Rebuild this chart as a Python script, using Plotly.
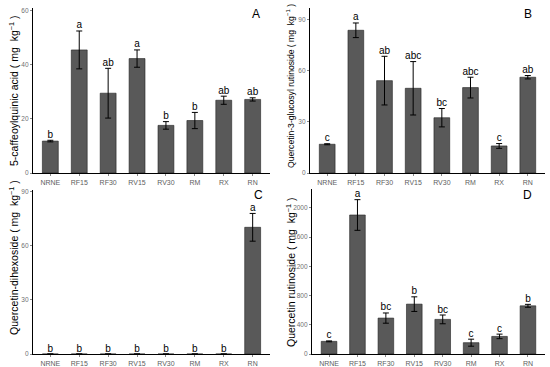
import plotly.graph_objects as go

categories = ["NRNE", "RF15", "RF30", "RV15", "RV30", "RM", "RX", "RN"]

a_vals = [11.8, 45.5, 29.5, 42.3, 17.6, 19.4, 26.9, 27.2]
a_err = [0.3, 7.0, 9.2, 3.2, 1.4, 3.0, 1.5, 0.6]
a_letters = ["b", "a", "ab", "a", "b", "b", "ab", "ab"]

b_vals = [16.9, 83.9, 54.3, 49.8, 32.5, 50.2, 15.9, 56.3]
b_err = [0.3, 4.3, 14.3, 15.7, 5.4, 6.1, 1.4, 1.0]
b_letters = ["c", "a", "ab", "abc", "bc", "abc", "c", "ab"]

c_vals = [0, 0, 0, 0, 0, 0, 0, 70.3]
c_err = [0, 0, 0, 0, 0, 0, 0, 7.7]
c_letters = ["b", "b", "b", "b", "b", "b", "b", "a"]

d_vals = [173, 1904, 492, 683, 474, 155, 241, 660]
d_err = [6, 210, 70, 100, 60, 48, 31, 20]
d_letters = ["c", "a", "bc", "b", "bc", "c", "c", "b"]

panels = [
    ("A", a_vals, a_err, a_letters, "5-caffeoylquinic acid ( mg  kg<sup>−1</sup> )", [0, 61], [0, 20, 40, 60]),
    ("B", b_vals, b_err, b_letters, "Quercetin-3-glucosyl rutinoside ( mg  kg<sup>−1</sup> )", [0, 97], [0, 30, 60, 90]),
    ("C", c_vals, c_err, c_letters, "Quercetin-dihexoside ( mg  kg<sup>−1</sup> )", [0, 91], [0, 30, 60, 90]),
    ("D", d_vals, d_err, d_letters, "Quercetin rutinoside ( mg  kg<sup>−1</sup> )", [0, 2260], [0, 400, 800, 1200, 1600, 2000]),
]

W, H = 550, 367
xdoms = [[33 / W, 270 / W], [310 / W, 545 / W], [33 / W, 270 / W], [312 / W, 545 / W]]
ydoms = [[1 - 173 / H, 1 - 8 / H], [1 - 173 / H, 1 - 8 / H], [1 - 354 / H, 1 - 190 / H], [1 - 354 / H, 1 - 189 / H]]
label_pos = [(256, 14), (528, 14), (258, 195), (527, 195)]
title_pos = [(13, 91, 10.5), (290, 86, 8.6), (13, 258, 10.5), (290, 272, 10.5)]

fig = go.Figure()
layout = dict(
    width=W, height=H, margin=dict(l=0, r=0, t=0, b=0, autoexpand=False),
    paper_bgcolor="white", plot_bgcolor="white", showlegend=False,
    font=dict(family="Liberation Sans, Arial, sans-serif"),
)
annotations = []
xi = list(range(len(categories)))
for i, (lab, vals, errs, letters, title, yr, tv) in enumerate(panels):
    n = "" if i == 0 else str(i + 1)
    xa, ya = "x" + n, "y" + n
    fig.add_trace(go.Bar(
        x=xi, y=vals, width=0.55, xaxis=xa, yaxis=ya,
        marker=dict(color="#595959", line=dict(color="#222222", width=0.6)),
        error_y=dict(type="data", array=errs, visible=True, color="black", thickness=1, width=3),
    ))
    tops = [v + e for v, e in zip(vals, errs)]
    fig.add_trace(go.Scatter(
        x=xi, y=tops, xaxis=xa, yaxis=ya, mode="text", text=letters,
        textposition="top center", textfont=dict(size=10, color="black"),
        cliponaxis=False, hoverinfo="skip",
    ))
    layout["xaxis" + n] = dict(
        domain=xdoms[i], range=[-0.6, 7.6], tickmode="array", tickvals=xi, ticktext=categories,
        showline=True, linecolor="black", linewidth=1.2, ticks="outside", ticklen=2,
        tickcolor="#888888", tickfont=dict(size=7, color="#5e5e5e"), showgrid=False,
        anchor=ya, zeroline=False, fixedrange=True, automargin=False,
    )
    layout["yaxis" + n] = dict(
        domain=ydoms[i], range=yr, tickmode="array", tickvals=tv,
        showline=True, linecolor="black", linewidth=1.2, ticks="outside", ticklen=2,
        tickcolor="#888888", tickfont=dict(size=6.5, color="#707070"), showgrid=False,
        anchor=xa, zeroline=False, automargin=False,
    )
    px, py = label_pos[i]
    annotations.append(dict(
        x=px / W, y=1 - py / H, xref="paper", yref="paper",
        text=lab, showarrow=False, font=dict(size=12, color="black"),
        xanchor="center", yanchor="middle",
    ))
    tx, ty, ts = title_pos[i]
    annotations.append(dict(
        x=tx / W, y=1 - ty / H, xref="paper", yref="paper", textangle=-90,
        text=title, showarrow=False, font=dict(size=ts, color="black"),
        xanchor="center", yanchor="middle",
    ))
layout["annotations"] = annotations
fig.update_layout(**layout)
fig.write_html("out.html", post_script="document.body.style.margin='0';",
               config={"displayModeBar": False})
